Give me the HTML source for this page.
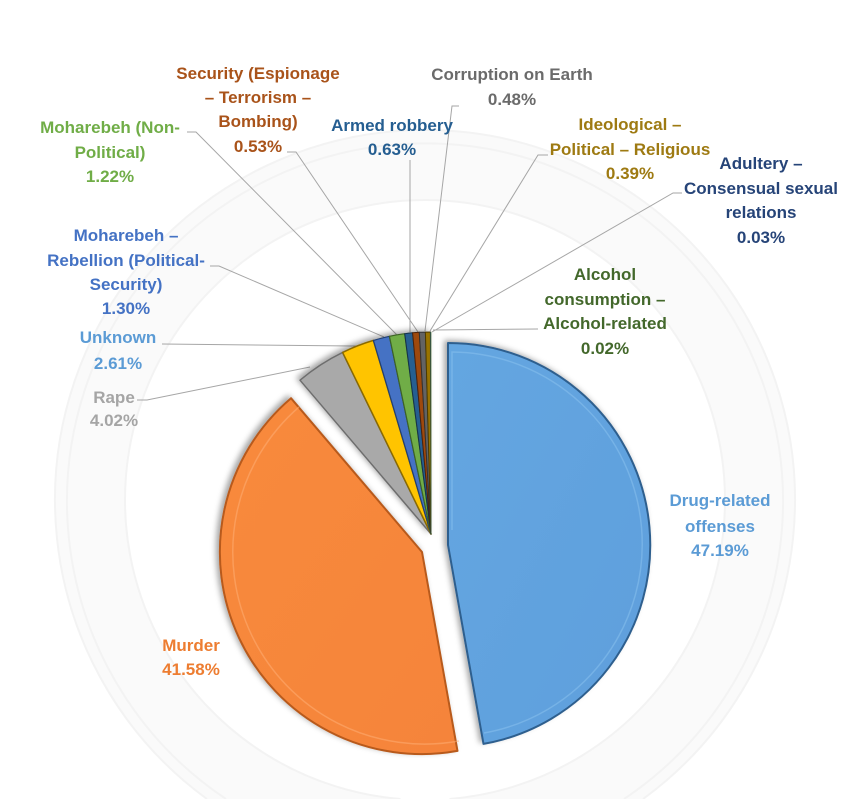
<!DOCTYPE html>
<html>
<head>
<meta charset="utf-8">
<style>
  html,body{margin:0;padding:0;background:#ffffff;width:864px;height:799px;overflow:hidden;}
  svg{display:block;overflow:hidden;}
  text{font-family:"Liberation Sans",Arial,sans-serif;font-weight:bold;font-size:17px;text-anchor:middle;}
</style>
</head>
<body>
<svg width="864" height="799" viewBox="0 0 864 799" xmlns="http://www.w3.org/2000/svg">
  <defs>
    <filter id="sh" x="-20%" y="-20%" width="140%" height="140%">
      <feDropShadow dx="-3" dy="-2" stdDeviation="3" flood-color="#000" flood-opacity="0.35"/>
    </filter>
    <linearGradient id="gBlue" x1="0" y1="0" x2="1" y2="1">
      <stop offset="0" stop-color="#64a6e1"/>
      <stop offset="1" stop-color="#5f9fdc"/>
    </linearGradient>
    <linearGradient id="gOrange" x1="0" y1="0" x2="1" y2="1">
      <stop offset="0" stop-color="#f88a3c"/>
      <stop offset="1" stop-color="#f5843a"/>
    </linearGradient>
  </defs>

  <rect width="864" height="799" fill="#ffffff"/>

  <!-- faint watermark seal (kept within frame) -->
  <path d="M207,799 A370,370 0 1 1 643,799 Z M400.5,799 A300,300 0 1 1 449.5,799 Z" fill="#fafafa" fill-rule="evenodd" stroke="none"/>
  <g fill="none" stroke="#f3f3f3" stroke-width="2">
    <path d="M207,799 A370,370 0 1 1 643,799"/>
    <path d="M226,799 A358,358 0 1 1 624,799"/>
    <path d="M400.5,799 A300,300 0 1 1 449.5,799"/>
  </g>

  <!-- leader lines -->
  <g fill="none" stroke="#a6a6a6" stroke-width="1">
    <polyline points="187,132 196,132 398,336"/>
    <polyline points="287,152 296,152 418,332"/>
    <polyline points="410,160 410,332"/>
    <polyline points="210,266 219,266 384,337"/>
    <polyline points="162,344 353,346 360,346"/>
    <polyline points="137,400 147,400 310,367"/>
    <polyline points="459,106 452,106 425,331"/>
    <polyline points="548,155 538,155 430,331"/>
    <polyline points="682,193 673,193 432,332"/>
    <polyline points="538,329 433,330"/>
  </g>

  <!-- pie slices -->
  <g filter="url(#sh)" stroke-linejoin="round">
    <path d="M448,545 L448,343 A202,202 0 0 1 483.5,743.9 Z" fill="url(#gBlue)" stroke="#2e5f8e" stroke-width="2"/>
    <path d="M422,552 L457.5,750.9 A202,202 0 0 1 291,398.2 Z" fill="url(#gOrange)" stroke="#b85a1c" stroke-width="2"/>
    <path d="M431,534 L300,380.2 A202,202 0 0 1 342.6,352.4 Z" fill="#a9a9a9" stroke="#6e6e6e" stroke-width="1.5"/>
    <path d="M431,534 L342.6,352.4 A202,202 0 0 1 373.4,340.4 Z" fill="#ffc400" stroke="#8a6a00" stroke-width="1.5"/>
    <path d="M431,534 L373.4,340.4 A202,202 0 0 1 389.4,336.3 Z" fill="#4472c4" stroke="#223f72" stroke-width="1.2"/>
    <path d="M431,534 L389.4,336.3 A202,202 0 0 1 404.7,333.7 Z" fill="#70ad47" stroke="#3d6326" stroke-width="1.2"/>
    <path d="M431,534 L404.7,333.7 A202,202 0 0 1 412.6,332.8 Z" fill="#255e91" stroke="#12304a" stroke-width="1"/>
    <path d="M431,534 L412.6,332.8 A202,202 0 0 1 419.3,332.3 Z" fill="#9e480e" stroke="#4e2407" stroke-width="1"/>
    <path d="M431,534 L419.3,332.3 A202,202 0 0 1 425.4,332.1 Z" fill="#636363" stroke="#333" stroke-width="1"/>
    <path d="M431,534 L425.4,332.1 A202,202 0 0 1 430.4,332 Z" fill="#997300" stroke="#4d3a00" stroke-width="1"/>
    <path d="M431,534 L430.4,332 A202,202 0 0 1 430.75,332 Z" fill="#264478" stroke="#264478" stroke-width="0.6"/>
    <path d="M431,534 L430.75,332 A202,202 0 0 1 431,332 Z" fill="#43682b" stroke="#43682b" stroke-width="0.6"/>
  </g>

  <!-- subtle inner bevel highlights on big slices -->
  <path d="M452,530 L452,352 A192,192 0 0 1 484,733" fill="none" stroke="#8cc3f0" stroke-width="1.5" opacity="0.5"/>
  <path d="M459,741 A192,192 0 0 1 299,407" fill="none" stroke="#ffb27a" stroke-width="1.5" opacity="0.5"/>

  <!-- labels -->
  <g fill="#a9531a">
    <text x="258" y="79">Security (Espionage</text>
    <text x="258" y="103">– Terrorism –</text>
    <text x="258" y="127">Bombing)</text>
    <text x="258" y="152">0.53%</text>
  </g>
  <g fill="#70ad47">
    <text x="110" y="133">Moharebeh (Non-</text>
    <text x="110" y="158">Political)</text>
    <text x="110" y="182">1.22%</text>
  </g>
  <g fill="#255e91">
    <text x="392" y="131">Armed robbery</text>
    <text x="392" y="155">0.63%</text>
  </g>
  <g fill="#4472c4">
    <text x="126" y="241">Moharebeh –</text>
    <text x="126" y="266">Rebellion (Political-</text>
    <text x="126" y="290">Security)</text>
    <text x="126" y="314">1.30%</text>
  </g>
  <g fill="#5b9bd5">
    <text x="118" y="343">Unknown</text>
    <text x="118" y="369">2.61%</text>
  </g>
  <g fill="#a5a5a5">
    <text x="114" y="403">Rape</text>
    <text x="114" y="426">4.02%</text>
  </g>
  <g fill="#6b6b6b">
    <text x="512" y="80">Corruption on Earth</text>
    <text x="512" y="105">0.48%</text>
  </g>
  <g fill="#9e7a12">
    <text x="630" y="130">Ideological –</text>
    <text x="630" y="155">Political – Religious</text>
    <text x="630" y="179">0.39%</text>
  </g>
  <g fill="#264478">
    <text x="761" y="169">Adultery –</text>
    <text x="761" y="194">Consensual sexual</text>
    <text x="761" y="218">relations</text>
    <text x="761" y="243">0.03%</text>
  </g>
  <g fill="#43682b">
    <text x="605" y="280">Alcohol</text>
    <text x="605" y="305">consumption –</text>
    <text x="605" y="329">Alcohol-related</text>
    <text x="605" y="354">0.02%</text>
  </g>
  <g fill="#5b9bd5">
    <text x="720" y="506">Drug-related</text>
    <text x="720" y="532">offenses</text>
    <text x="720" y="556">47.19%</text>
  </g>
  <g fill="#ed7d31">
    <text x="191" y="651">Murder</text>
    <text x="191" y="675">41.58%</text>
  </g>
</svg>
</body>
</html>
